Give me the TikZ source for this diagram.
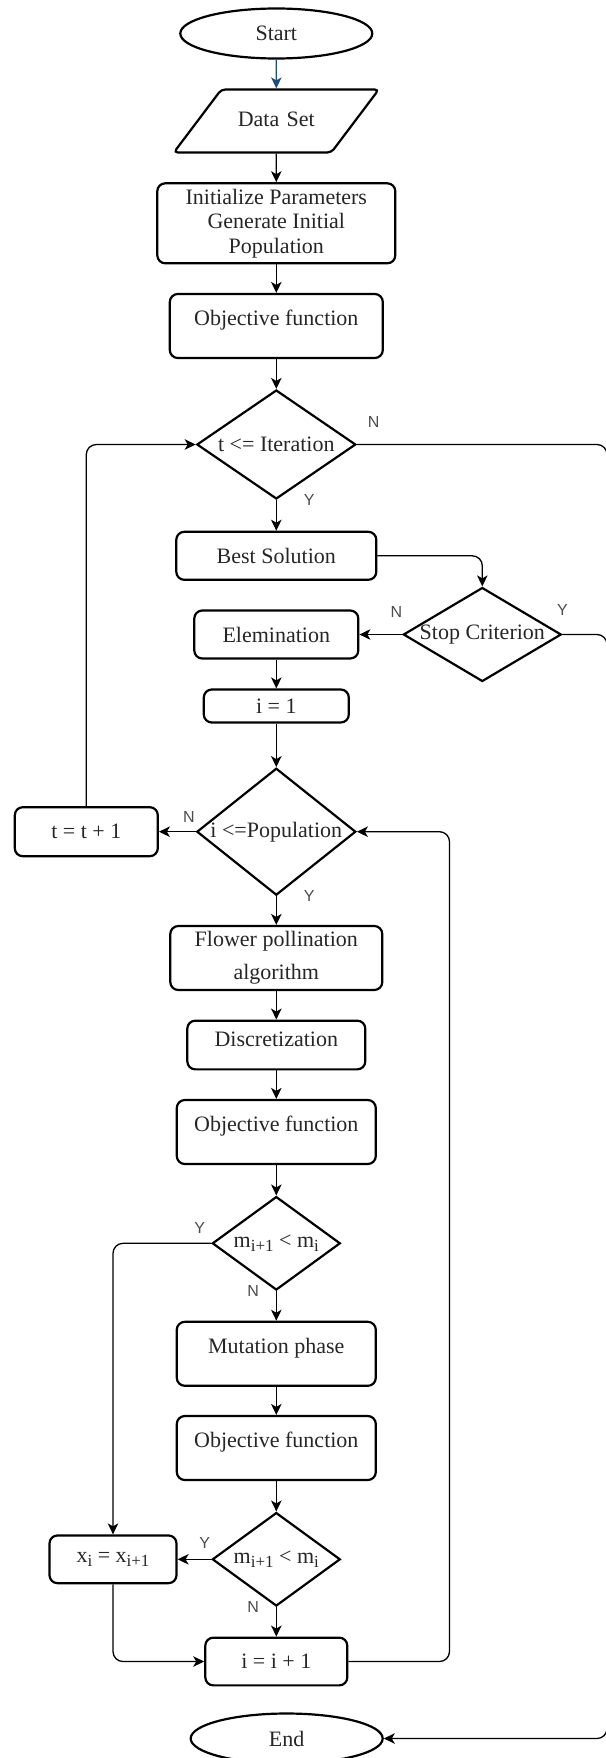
\documentclass[tikz,border=0pt]{standalone}
\usepackage{fontspec}
\setmainfont{Liberation Serif}
\newfontfamily\ynfont{Liberation Sans}
\usetikzlibrary{arrows.meta, shapes.geometric}
\definecolor{startblue}{RGB}{31,78,121}
\definecolor{ink}{RGB}{38,38,38}
\newcommand{\lowidx}[1]{\raisebox{-0.45ex}{\fontsize{17}{17}\selectfont #1}}

\begin{document}
\begin{tikzpicture}[>={Stealth[length=11pt,width=10.5pt,inset=3pt]}, line width=1.3pt,
  every node/.style={font=\fontsize{22}{24.5}\selectfont, text=ink},
  terminal/.style={ellipse, draw, line width=2.2pt, minimum width=192pt, minimum height=50pt, inner sep=0pt},
  io/.style={trapezium, trapezium left angle=53, trapezium right angle=127, draw, line width=2.2pt, rounded corners=4pt, inner sep=0pt, text width=110pt, align=center, text height=37pt, text depth=26pt},
  process/.style={rectangle, draw, line width=2.2pt, rounded corners=8pt, align=center, inner sep=2pt},
  decision/.style={diamond, draw, line width=2.2pt, inner sep=0pt},
  lifted/.style={text depth=#1},
  yn/.style={font=\ynfont\fontsize{16}{16}\selectfont, text=black!70},
  flow/.style={->, rounded corners=10pt}]

\useasboundingbox (0,0) rectangle (605pt,-1758pt);

% define the blocks of the chart
  \node[terminal] (start) at (276.3pt,-33.5pt) {Start};
  \node[io] (data) [node distance=87.5pt, below of=start] {Data Set};
  \node[process, minimum width=238pt, minimum height=80pt] (init) [node distance=102.3pt, below of=data]
{Initialize Parameters\\Generate Initial\\Population};
  \node[process, lifted=16pt, minimum width=213pt, minimum height=64pt] (obj1) [node distance=102.7pt, below of=init]
{Objective function};
  \node[decision, aspect=1.46, minimum width=159pt, minimum height=109pt] (d1) [node distance=118.5pt, below of=obj1]
{t <= Iteration};
  \node[process, minimum width=200pt, minimum height=48pt] (best) [node distance=111.3pt, below of=d1]
{Best Solution};
  \node[process, minimum width=164pt, minimum height=48pt] (elem) [node distance=78.7pt, below of=best]
{Elemination};
  \node[decision, aspect=1.68, minimum width=158pt, minimum height=94pt] (d2) [node distance=206pt, right of=elem]
{Stop Criterion};
  \node[process, minimum width=145pt, minimum height=33pt] (i1) [node distance=71.5pt, below of=elem]
{i = 1};
  \node[decision, aspect=1.25, minimum width=159pt, minimum height=127pt] (d3) [node distance=125.7pt, below of=i1]
{i <=Population};
  \node[process, minimum width=143pt, minimum height=49pt] (tt) [node distance=190pt, left of=d3]
{t = t + 1};
  \node[process, minimum width=212pt, minimum height=64pt] (flower) [node distance=126.3pt, below of=d3]
{Flower pollination\\[8.8pt]algorithm};
  \node[process, lifted=11pt, minimum width=178pt, minimum height=48.7pt] (disc) [node distance=87pt, below of=flower]
{Discretization};
  \node[process, lifted=16pt, minimum width=199pt, minimum height=64pt] (obj2) [node distance=87pt, below of=disc]
{Objective function};
  \node[decision, aspect=1.37, minimum width=128pt, minimum height=93.5pt] (d4) [node distance=111.3pt, below of=obj2]
{m\lowidx{i+1} < m\lowidx{i}};
  \node[process, lifted=16pt, minimum width=199pt, minimum height=64pt] (mut) [node distance=110.5pt, below of=d4]
{Mutation phase};
  \node[process, lifted=16pt, minimum width=199pt, minimum height=64pt] (obj3) [node distance=94.2pt, below of=mut]
{Objective function};
  \node[decision, aspect=1.37, minimum width=128pt, minimum height=93.5pt] (d5) [node distance=111.3pt, below of=obj3]
{m\lowidx{i+1} < m\lowidx{i}};
  \node[process, minimum width=127pt, minimum height=47.7pt] (xi) [node distance=163.3pt, left of=d5]
{x\lowidx{i} = x\lowidx{i+1}};
  \node[process, minimum width=142pt, minimum height=47.7pt] (ii) [node distance=102.2pt, below of=d5]
{i = i + 1};
  \node[terminal] (end) [node distance=77pt, below of=ii, xshift=10.4pt] {End};

% helper columns for the long loops
  \coordinate (edge) at (607pt,0);
  \coordinate (back) at (449.5pt,0);

% Y / N marks at the decisions
  \node[yn] (d1no) at ([xshift=16.7pt, yshift=22.8pt]d1.east) {N};
  \node[yn] (d1yes) at ([xshift=33pt]d1.south) {Y};
  \node[yn] (d2no) at ([xshift=-5.7pt, yshift=22.8pt]d2.west) {N};
  \node[yn] (d2yes) at ([yshift=24.5pt]d2.east) {Y};
  \node[yn] (d3no) at ([xshift=-6.7pt, yshift=15pt]d3.west) {N};
  \node[yn] (d3yes) at ([xshift=33pt]d3.south) {Y};
  \node[yn] (d4yes) at ([xshift=-11.6pt, yshift=15pt]d4.west) {Y};
  \node[yn] (d4no) at ([xshift=-23.2pt]d4.south) {N};
  \node[yn] (d5yes) at ([xshift=-6.6pt, yshift=16pt]d5.west) {Y};
  \node[yn] (d5no) at ([xshift=-23.2pt]d5.south) {N};

% define the links
  \draw[->, startblue] (start) -- (data);
  \draw[->] (data) -- (init);
  \draw[->] (init) -- (obj1);
  \draw[->] (obj1) -- (d1);
  \draw[->] (d1) -- (best);
  \draw[flow] (best.east) -| (d2.north);
  \draw[->] (d2) -- (elem);
  \draw[rounded corners=10pt] (d2.east) -- (d2.east -| edge) -- ([yshift=-40pt]d2.east -| edge);
  \draw[flow] (d1.east) -- (d1.east -| edge) |- (end.east);
  \draw[->] (elem) -- (i1);
  \draw[->] (i1) -- (d3);
  \draw[->] (d3) -- (tt);
  \draw[flow] (tt.north) |- (d1.west);
  \draw[->] (d3) -- (flower);
  \draw[->] (flower) -- (disc);
  \draw[->] (disc) -- (obj2);
  \draw[->] (obj2) -- (d4);
  \draw[flow] (d4.west) -| (xi.north);
  \draw[->] (d4) -- (mut);
  \draw[->] (mut) -- (obj3);
  \draw[->] (obj3) -- (d5);
  \draw[->] (d5) -- (xi);
  \draw[->] (d5) -- (ii);
  \draw[flow] (xi.south) |- (ii.west);
  \draw[flow] (ii.east) -- (ii.east -| back) |- (d3.east);

\end{tikzpicture}
\end{document}
